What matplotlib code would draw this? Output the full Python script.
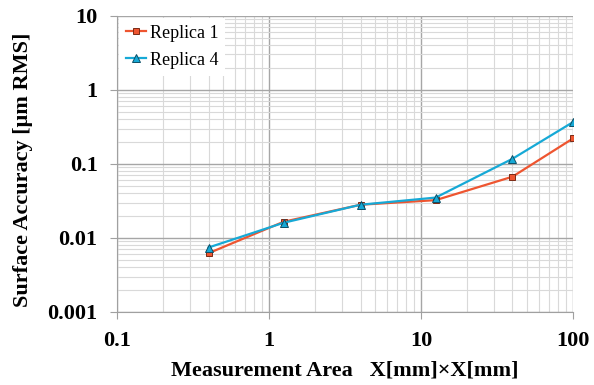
import matplotlib.pyplot as plt
from matplotlib.ticker import LogLocator, FixedLocator, NullFormatter

# datos
area = [0.4, 1.25, 4, 12.5, 40, 100]
replica1 = [0.0062, 0.0165, 0.028, 0.0323, 0.067, 0.22]
replica4 = [0.0074, 0.016, 0.028, 0.035, 0.117, 0.366]

xticks = [0.1, 1, 10, 100]
xtick_labels = ['0.1', '1', '10', '100']
yticks = [0.001, 0.01, 0.1, 1, 10]
ytick_labels = ['0.001', '0.01', '0.1', '1', '10']

plt.rcParams['font.family'] = ['Liberation Serif', 'DejaVu Serif']

fig = plt.figure(figsize=(5.94, 3.85), dpi=100)
ax = fig.add_axes([0.197, 0.19, 0.7676, 0.769])

ax.plot(area, replica1, marker='s', color='#EE5530', lw=1.6, ms=5,
        mec='#7a2a15', mew=0.7, label='Replica 1', zorder=3)
ax.plot(area, replica4, marker='^', color='#16A9D6', lw=1.6, ms=5.5,
        mec='#0d4f66', mew=0.7, label='Replica 4', zorder=4)

ax.set_xscale('log')
ax.set_yscale('log')
ax.set_xlim(0.1, 100)
ax.set_ylim(0.001, 10)

ax.xaxis.set_major_locator(FixedLocator(xticks))
ax.set_xticklabels(xtick_labels)
ax.yaxis.set_major_locator(FixedLocator(yticks))
ax.set_yticklabels(ytick_labels)
for axis in (ax.xaxis, ax.yaxis):
    axis.set_minor_locator(LogLocator(base=10, subs=range(2, 10), numticks=20))
    axis.set_minor_formatter(NullFormatter())

ax.grid(which='major', color='#a6a6a6', lw=1.0)
ax.grid(which='minor', color='#d9d9d9', lw=0.8)
ax.set_axisbelow(True)

for s in ['top', 'right']:
    ax.spines[s].set_visible(False)
for s in ['left', 'bottom']:
    ax.spines[s].set_color('#a0a0a0')
ax.tick_params(which='major', direction='out', length=5, color='#a0a0a0',
               labelsize=16, pad=9)
ax.tick_params(which='minor', length=0)
for lab in ax.get_xticklabels() + ax.get_yticklabels():
    lab.set_fontweight('bold')

ax.set_xlabel('Measurement Area   X[mm]\u00d7X[mm]', fontsize=16,
              fontweight='bold')
ax.xaxis.set_label_coords(0.5, -0.165)
ax.set_ylabel('Surface Accuracy [\u03bcm RMS]', fontsize=16,
              fontweight='bold')
ax.yaxis.set_label_coords(-0.185, 0.48)

leg = ax.legend(loc='upper left', fontsize=13, frameon=True, fancybox=False,
                edgecolor='none', facecolor='white', framealpha=1,
                handlelength=1.1, handletextpad=0.2, borderaxespad=0.1,
                borderpad=0.4, labelspacing=0.55)

fig.savefig('out.png', dpi=100)
